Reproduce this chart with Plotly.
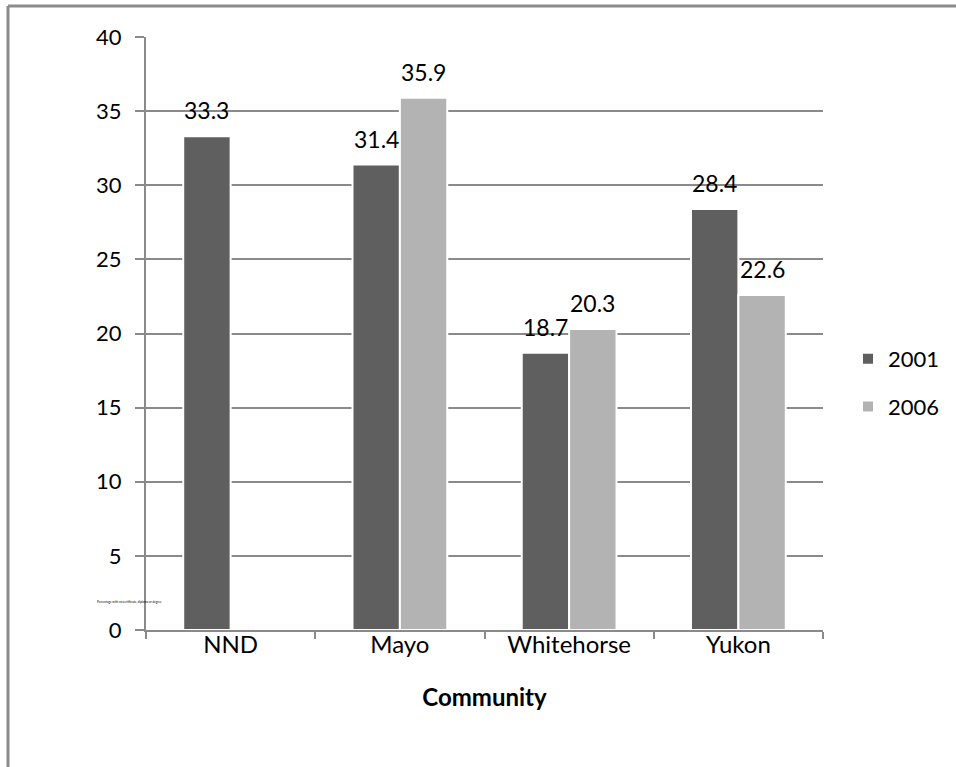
import plotly.graph_objects as go

# Share of population with no certificate, diploma or degree, by community
communities = ["NND", "Mayo", "Whitehorse", "Yukon"]
years = ["2001", "2006"]
values_2001 = [33.3, 31.4, 18.7, 28.4]
values_2006 = [None, 35.9, 20.3, 22.6]
y_ticks = [0, 5, 10, 15, 20, 25, 30, 35, 40]

colors = {"2001": "#5f5f5f", "2006": "#b3b3b3"}
FONT = "Lato, 'Open Sans', sans-serif"
GRID = "#8a8a8a"

W, H = 956, 767
L, R, T, B = 146, 133, 37, 137
plot_w = W - L - R
plot_h = H - T - B

fig = go.Figure()
series = {"2001": values_2001, "2006": values_2006}
for i, yr in enumerate(years):
    fig.add_trace(go.Bar(
        x=communities, y=series[yr], name=yr,
        marker=dict(color=colors[yr], line=dict(color="white", width=2)),
        legendgroup=yr,
    ))

# value labels above each bar
cat_px = plot_w / len(communities)
bargap = 0.44
bar_px = cat_px * (1 - bargap) / 2
annotations = []
for i, yr in enumerate(years):
    shift = (i - 0.5) * bar_px
    for c, v in zip(communities, series[yr]):
        if v is None:
            continue
        annotations.append(dict(
            x=c, y=v, text=f"{v:.1f}", showarrow=False,
            xshift=shift, yshift=26, yanchor="middle",
            font=dict(family=FONT, size=23, color="black"),
        ))

# small axis title text
annotations.append(dict(
    xref="paper", yref="paper",
    x=(95 - L) / plot_w, y=(H - B - 606) / plot_h,
    text="Percentage with no certificate, diploma or degree",
    showarrow=False, font=dict(family=FONT, size=3, color="black"),
))

# outer chart frame (top and left edges)
fx = (8 - L) / plot_w
fy_top = (H - B - 6) / plot_h
fy_bot = (H - B - H - 5) / plot_h
fx_right = (W + 5 - L) / plot_w
shapes = [
    dict(type="line", xref="paper", yref="paper", x0=fx, x1=fx_right, y0=fy_top, y1=fy_top,
         line=dict(color="#8c8c8c", width=3)),
    dict(type="line", xref="paper", yref="paper", x0=fx, x1=fx, y0=fy_top, y1=fy_bot,
         line=dict(color="#8c8c8c", width=3)),
]

fig.update_layout(
    width=W, height=H,
    margin=dict(l=L, r=R, t=T, b=B, autoexpand=False),
    paper_bgcolor="white", plot_bgcolor="white",
    barmode="group", bargap=bargap, bargroupgap=0.0,
    font=dict(family=FONT, size=22, color="black"),
    annotations=annotations,
    shapes=shapes,
    legend=dict(
        x=(848 - L) / plot_w, y=(H - B - 338) / plot_h,
        xanchor="left", yanchor="top",
        font=dict(family=FONT, size=22, color="black"),
        tracegroupgap=16, bgcolor="rgba(0,0,0,0)",
    ),
    xaxis=dict(
        type="category", tickson="boundaries",
        ticks="outside", ticklen=7, tickwidth=2, tickcolor=GRID,
        showline=True, linecolor=GRID, linewidth=2,
        showgrid=False,
        tickfont=dict(family=FONT, size=24),
        ticklabelstandoff=-8,
        title=dict(text="<b>Community</b>", font=dict(family=FONT, size=24), standoff=32),
    ),
    yaxis=dict(
        range=[0, 40], tickvals=y_ticks,
        ticks="outside", ticklen=9, tickwidth=2, tickcolor=GRID,
        showline=True, linecolor=GRID, linewidth=2,
        showgrid=True, gridcolor=GRID, gridwidth=2,
        zeroline=False,
        tickfont=dict(family=FONT, size=22),
        ticklabelstandoff=9,
    ),
)

fig.write_html("out.html")
